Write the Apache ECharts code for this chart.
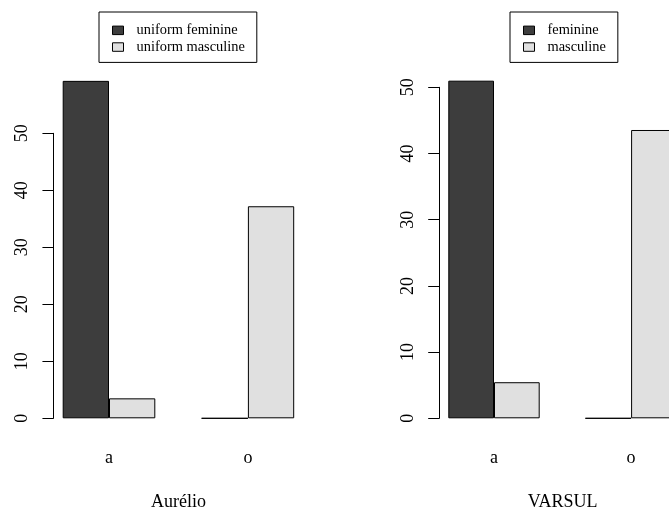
<!DOCTYPE html>
<html>
<head>
<meta charset="utf-8">
<script src="https://cdn.jsdelivr.net/npm/echarts@6/dist/echarts.min.js"></script>
<style>html,body{margin:0;padding:0;background:#fff}#c{width:669px;height:507px}</style>
</head>
<body>
<div id="c"></div>
<script>
var categories = ['a', 'o'];
var aurelioFeminine = [59.2, 0];
var aurelioMasculine = [3.5, 37.2];
var varsulFeminine = [51.0, 0];
var varsulMasculine = [5.45, 43.55];
var yTicks = [0, 10, 20, 30, 40, 50];
var panelTitles = ['Aurélio', 'VARSUL'];
var leftNames = ['uniform feminine', 'uniform masculine'];
var rightNames = ['feminine', 'masculine'];

var DARK = '#3d3d3d', LIGHT = '#e0e0e0';
var FONT = 'Liberation Serif';

function yAx(gi, off) {
  return {
    gridIndex: gi, type: 'value', min: yTicks[0], max: yTicks[yTicks.length - 1], interval: 10,
    offset: off,
    axisLine: {show: true, lineStyle: {color: '#000', width: 1}},
    axisTick: {show: true, length: 11, lineStyle: {color: '#000', width: 1}},
    axisLabel: {rotate: 90, margin: 22, fontFamily: FONT, fontSize: 18, color: '#000'},
    splitLine: {show: false}
  };
}
function xAx(gi, name) {
  return {
    gridIndex: gi, type: 'category', data: categories,
    axisLine: {show: false}, axisTick: {show: false},
    axisLabel: {margin: 31, fontFamily: FONT, fontSize: 18, color: '#000'},
    name: name, nameLocation: 'middle', nameGap: 75,
    nameTextStyle: {fontFamily: FONT, fontSize: 18, color: '#000'}
  };
}
function bar(name, data, gi, color) {
  return {
    name: name, type: 'bar', data: data, xAxisIndex: gi, yAxisIndex: gi,
    barWidth: '33.333%', barGap: '0%', clip: false,
    itemStyle: {color: color, borderColor: '#000', borderWidth: 1},
    emphasis: {disabled: true}, animation: false
  };
}
function legend(names, left) {
  return {
    data: names, orient: 'vertical', left: left, top: 12,
    padding: [10, 12, 7, 13], itemGap: 0, itemWidth: 11, itemHeight: 8.5,
    icon: 'rect', borderColor: '#000', borderWidth: 1,
    itemStyle: {borderColor: '#000', borderWidth: 1},
    textStyle: {fontFamily: FONT, fontSize: 14.4, color: '#000', lineHeight: 16.7, padding: [0, 0, 0, 8]},
    selectedMode: false
  };
}

var chart = echarts.init(document.getElementById('c'), null, {renderer: 'canvas'});
chart.setOption({
  animation: false,
  backgroundColor: '#fff',
  grid: [
    {left: 39.55, width: 277.8, top: 133.3, height: 285, containLabel: false, outerBoundsMode: 'none'},
    {left: 425.45, width: 274.2, top: 87.3, height: 331, containLabel: false, outerBoundsMode: 'none'}
  ],
  xAxis: [xAx(0, panelTitles[0]), xAx(1, panelTitles[1])],
  yAxis: [yAx(0, -13.9), yAx(1, -13.75)],
  legend: [legend(leftNames, 99), legend(rightNames, 510)],
  series: [
    bar(leftNames[0], aurelioFeminine, 0, DARK),
    bar(leftNames[1], aurelioMasculine, 0, LIGHT),
    bar(rightNames[0], varsulFeminine, 1, DARK),
    bar(rightNames[1], varsulMasculine, 1, LIGHT)
  ]
});
</script>
</body>
</html>
